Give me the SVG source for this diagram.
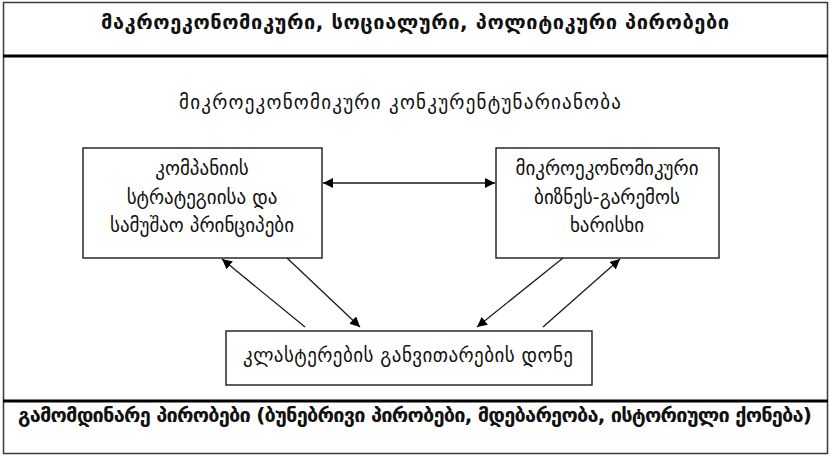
<svg xmlns="http://www.w3.org/2000/svg" width="830" height="456" viewBox="0 0 830 456">
<defs>
<style>
.frame{fill:#fff;stroke:#3a3a3a;stroke-width:1.5}
.sep{stroke:#000;stroke-width:3}
.box{fill:#fff;stroke:#1a1a1a;stroke-width:1.4}
.t{font-family:"DejaVu Sans",sans-serif;font-size:19px;fill:#111;text-anchor:middle}
.b{font-weight:bold;font-size:20px}
.c{stroke:#1a1a1a;stroke-width:1.3;fill:none;marker-end:url(#ah)}
</style>
<marker id="ah" viewBox="0 0 10 10" refX="10" refY="5" markerWidth="10" markerHeight="10" markerUnits="userSpaceOnUse" orient="auto-start-reverse">
<path d="M0,0 L10,5 L0,10 z" fill="#000"/>
</marker>
</defs>
<rect class="frame" x="3.5" y="2.5" width="824" height="451"/>
<line class="sep" x1="3" y1="56" x2="828" y2="56"/>
<line class="sep" x1="3" y1="401" x2="828" y2="401"/>
<g id="top-title"><text class="t b" x="415" y="29" textLength="628">მაკროეკონომიკური, სოციალური, პოლიტიკური პირობები</text></g>
<g id="bottom-title"><text class="t b" x="415" y="422" textLength="794">გამომდინარე პირობები (ბუნებრივი პირობები, მდებარეობა,  ისტორიული  ქონება)</text></g>
<g id="heading"><text class="t" x="400" y="109" textLength="442">მიკროეკონომიკური  კონკურენტუნარიანობა</text></g>
<g id="company">
<rect class="box" x="83" y="148" width="239" height="110"/>
<text class="t" x="202" y="175">კომპანიის</text>
<text class="t" x="202" y="204">სტრატეგიისა  და</text>
<text class="t" x="202" y="232">სამუშაო  პრინციპები</text>
</g>
<g id="business">
<rect class="box" x="496" y="148" width="223" height="110"/>
<text class="t" x="607" y="175">მიკროეკონომიკური</text>
<text class="t" x="607" y="204">ბიზნეს-გარემოს</text>
<text class="t" x="607" y="232">ხარისხი</text>
</g>
<g id="clusters">
<rect class="box" x="226" y="331" width="366" height="54"/>
<text class="t" x="408" y="362" textLength="330">კლასტერების  განვითარების  დონე</text>
</g>
<g id="connectors">
<line class="c" x1="323" y1="183" x2="495" y2="183" marker-start="url(#ah)"/>
<line class="c" x1="305" y1="327" x2="222" y2="259"/>
<line class="c" x1="287" y1="258" x2="360" y2="327"/>
<line class="c" x1="563" y1="258" x2="477" y2="327"/>
<line class="c" x1="543" y1="327" x2="620" y2="259"/>
</g>
</svg>
